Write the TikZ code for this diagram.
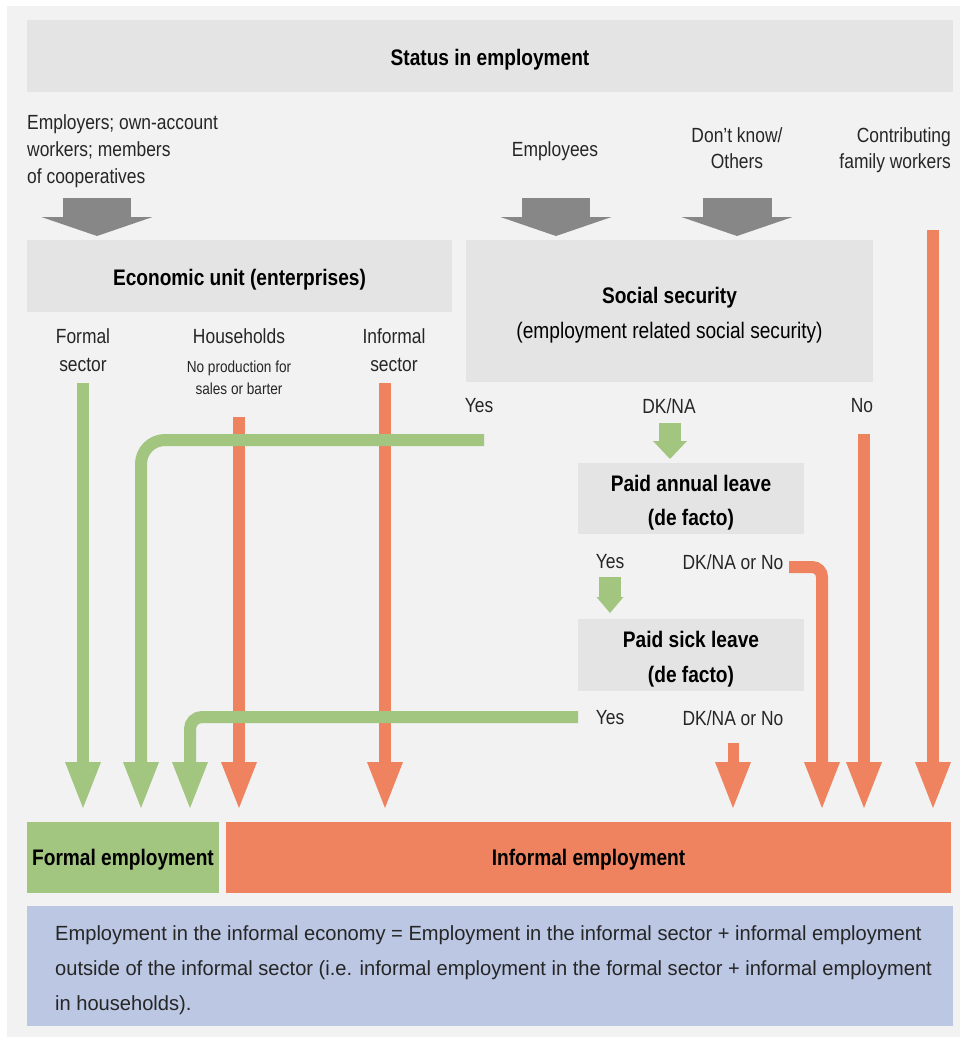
\documentclass[tikz,border=0pt]{standalone}
\usepackage{fontspec}
\setmainfont{Liberation Sans}[FakeStretch=0.85]
\newfontfamily\bluefam{Liberation Sans}[FakeStretch=0.98]
\usetikzlibrary{arrows.meta}
\definecolor{bg}{HTML}{F2F2F2}
\definecolor{boxgrey}{HTML}{E3E4E3}
\definecolor{arrgrey}{HTML}{878787}
\definecolor{grn}{HTML}{A2C57F}
\definecolor{org}{HTML}{EF8360}
\definecolor{blu}{HTML}{BCC7E3}
\definecolor{txt}{HTML}{262626}
\newcommand\lblfont{\fontsize{20.5}{27}\selectfont}
\newcommand\hdfont{\fontsize{22.5}{34.5}\selectfont\bfseries}
\newcommand\smfont{\fontsize{16}{22}\selectfont}
\newcommand\bluefont{\bluefam\fontsize{20.5}{35}\selectfont}
\begin{document}
\begin{tikzpicture}[x=1pt,y=-1pt,
  box/.style={fill=boxgrey, inner sep=0pt},
  hd/.style={inner sep=0pt, align=center, font=\hdfont, text=black, yshift=-4pt},
  lab/.style={inner sep=0pt, anchor=north, align=center, font=\lblfont, text=txt},
  longarr/.style={line width=12pt, -{Triangle[length=46pt,width=36pt,line width=0pt]}},
  blockarr/.style={line width=68pt, arrgrey, -{Triangle[length=19pt,width=111pt,line width=0pt]}},
]
\useasboundingbox (0,0) rectangle (960,1037);
\fill[white] (0,0) rectangle (960,1037);
\fill[bg] (7,6) rectangle (960,1037);

% boxes
\node[box, minimum width=926pt, minimum height=72pt] (status) at (490,56) {};
\node[hd] (statusT) at (status.center) {Status in employment};
\node[box, minimum width=425pt, minimum height=72pt] (econ) at (239.5,276) {};
\node[hd] (econT) at (econ.center) {Economic unit (enterprises)};
\node[box, minimum width=407pt, minimum height=142pt] (social) at (669.5,311) {};
\node[hd] (socialT) at (social.center) {Social security\\\mdseries(employment related social security)};
\node[box, minimum width=226pt, minimum height=71pt] (annual) at (691,498.5) {};
\node[hd] (annualT) at (annual.center) {Paid annual leave\\(de facto)};
\node[box, minimum width=226pt, minimum height=72pt] (sick) at (691,655) {};
\node[hd] (sickT) at (sick.center) {Paid sick leave\\(de facto)};
\node[box, fill=grn, minimum width=192pt, minimum height=71pt] (formalemp) at (123,857.5) {};
\node[hd, yshift=2pt] (formalempT) at (formalemp.center) {Formal employment};
\node[box, fill=org, minimum width=725pt, minimum height=71pt] (informalemp) at (588.5,857.5) {};
\node[hd, yshift=2pt] (informalempT) at (informalemp.center) {Informal employment};
\node[box, fill=blu, minimum width=926pt, minimum height=120pt] (blue) at (490,966) {};
\node[inner sep=0pt, anchor=north west, align=left, font=\bluefont, text=txt] (bluetext) at (55,925)
  {Employment in the informal economy = Employment in the informal sector + informal employment\\
   outside of the informal sector (i.e. informal employment in the formal sector + informal employment\\
   in households).};

% labels
\node[lab, anchor=north west, align=left] (employers) at (27,114) {Employers; own-account\\workers; members\\of cooperatives};
\node[lab] (employees) at (555,141) {Employees};
\node[lab, font=\fontsize{20.5}{26}\selectfont] (dontknow) at (737,127) {Don't know/\\Others};
\node[lab, anchor=north east, align=right, font=\fontsize{20.5}{26}\selectfont] (contrib) at (951,127) {Contributing\\family workers};
\node[lab, font=\fontsize{20.5}{28}\selectfont] (formalsec) at (83,328) {Formal\\sector};
\node[lab] (households) at (239,328) {Households};
\node[lab, font=\smfont] (noprod) at (239,361) {No production for\\sales or barter};
\node[lab, font=\fontsize{20.5}{28}\selectfont] (informalsec) at (394,328) {Informal\\sector};
\node[lab] (ssyes) at (479,398) {Yes};
\node[lab] (ssdk) at (669,398) {DK/NA};
\node[lab] (ssno) at (862,398) {No};
\node[lab] (alyes) at (610,554) {Yes};
\node[lab] (aldk) at (733,554) {DK/NA or No};
\node[lab] (slyes) at (610,710) {Yes};
\node[lab] (sldk) at (733,710) {DK/NA or No};

% coordinates
\coordinate (g1s) at (97,198);  \coordinate (g1e) at (97,236);
\coordinate (g2s) at (556,198); \coordinate (g2e) at (556,236);
\coordinate (g3s) at (737,198); \coordinate (g3e) at (737,236);
\coordinate (fsS) at (83,383);   \coordinate (fsE) at (83,808);
\coordinate (hhS) at (239,417);  \coordinate (hhE) at (239,808);
\coordinate (isS) at (385,383);  \coordinate (isE) at (385,808);
\coordinate (syS) at (484,440);  \coordinate (syC) at (141,440); \coordinate (syE) at (141,808);
\coordinate (lyS) at (578,717);  \coordinate (lyC) at (190,717); \coordinate (lyE) at (190,808);
\coordinate (ldS) at (733,743);  \coordinate (ldE) at (733,808);
\coordinate (adS) at (789,567);  \coordinate (adC) at (822,567); \coordinate (adE) at (822,808);
\coordinate (snS) at (864,434);  \coordinate (snE) at (864,808);
\coordinate (cfS) at (933,230);  \coordinate (cfE) at (933,808);
\coordinate (dkS) at (670,423);  \coordinate (dkE) at (670,459);
\coordinate (ayS) at (610,577);  \coordinate (ayE) at (610,613);

% grey block arrows
\draw[blockarr] (g1s) -- (g1e);
\draw[blockarr] (g2s) -- (g2e);
\draw[blockarr, line width=69pt] (g3s) -- (g3e);

% long arrows
\draw[longarr, grn] (fsS) -- (fsE);
\draw[longarr, org] (hhS) -- (hhE);
\draw[longarr, org] (isS) -- (isE);
\draw[longarr, grn, rounded corners=24pt] (syS) -- (syC) -- (syE);
\draw[longarr, grn, rounded corners=12pt] (lyS) -- (lyC) -- (lyE);
\draw[longarr, org, line width=11pt] (ldS) -- (ldE);
\draw[longarr, org, rounded corners=10pt] (adS) -- (adC) -- (adE);
\draw[longarr, org] (snS) -- (snE);
\draw[longarr, org] (cfS) -- (cfE);

% small green block arrows
\draw[grn, line width=22pt, -{Triangle[length=18pt,width=34pt,line width=0pt]}] (dkS) -- (dkE);
\draw[grn, line width=22pt, -{Triangle[length=16pt,width=27pt,line width=0pt]}] (ayS) -- (ayE);
\end{tikzpicture}
\end{document}
